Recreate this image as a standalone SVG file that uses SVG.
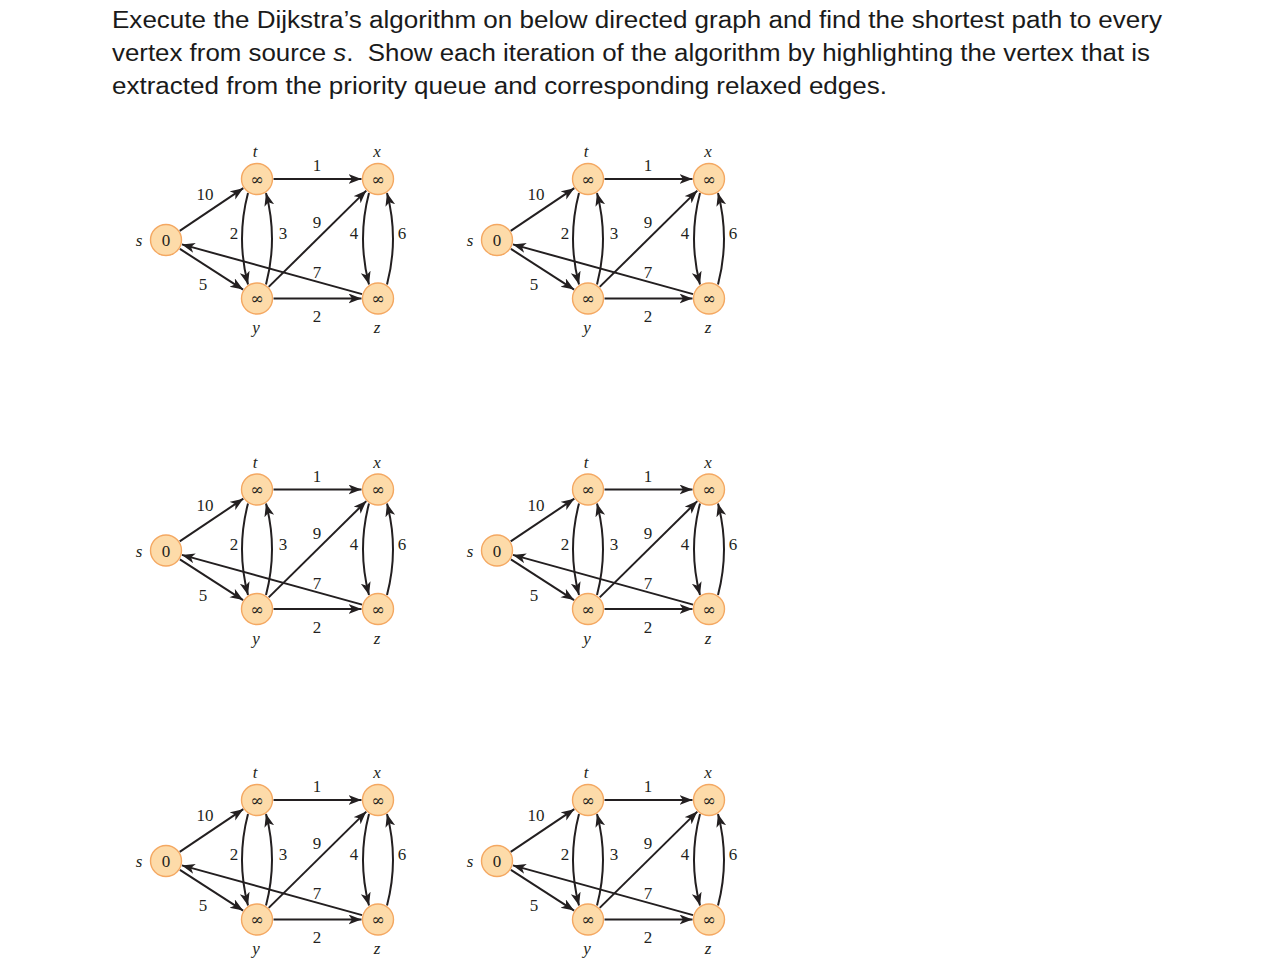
<svg xmlns="http://www.w3.org/2000/svg" width="1278" height="964" viewBox="0 0 1278 964">
<style>
.title{font-family:"Liberation Sans","Noto Sans",sans-serif;font-size:23px;fill:#1a1a1a;white-space:pre}
.e{fill:none;stroke:#231f20;stroke-width:2;marker-end:url(#ah)}
.n{fill:#fddba9;stroke:#f4a862;stroke-width:1.4}
.nt{font-family:"Liberation Serif","DejaVu Serif",serif;font-size:17px;fill:#231f20;text-anchor:middle}
.inf{font-family:"DejaVu Serif","Liberation Serif",serif;font-size:16px;fill:#231f20;text-anchor:middle}
.lb{font-family:"Liberation Serif",serif;font-size:17px;fill:#231f20;text-anchor:middle}
.vl{font-family:"Liberation Serif",serif;font-size:17px;font-style:italic;fill:#231f20;text-anchor:middle}
</style>
<defs>
<marker id="ah" markerUnits="userSpaceOnUse" markerWidth="14" markerHeight="11" refX="13" refY="5" orient="auto">
<path d="M0,0 L13,5 L0,10 L3.5,5 Z" fill="#231f20"/>
</marker>
<g id="edges-tpl">
<path class="e" d="M179.7,230.8 L243.3,188.2"/>
<path class="e" d="M179.9,248.9 L243.1,289.6"/>
<path class="e" d="M362.1,294.1 L181.9,244.4"/>
<path class="e" d="M273.5,179 L361.5,179"/>
<path class="e" d="M273.5,298.5 L361.5,298.5"/>
<path class="e" d="M268.7,286.9 L366.3,190.6"/>
<path class="e" d="M248,193 Q236,238.75 248,284.5"/>
<path class="e" d="M266,284.5 Q278,238.75 266,193"/>
<path class="e" d="M369,193 Q357,238.75 369,284.5"/>
<path class="e" d="M387,284.5 Q399,238.75 387,193"/>
</g>
<g id="labels-tpl">
<text class="lb" x="205" y="200">10</text>
<text class="lb" x="317" y="171">1</text>
<text class="lb" x="234" y="239">2</text>
<text class="lb" x="283" y="239">3</text>
<text class="lb" x="317" y="228">9</text>
<text class="lb" x="354" y="239">4</text>
<text class="lb" x="402" y="239">6</text>
<text class="lb" x="317" y="278">7</text>
<text class="lb" x="203" y="290">5</text>
<text class="lb" x="317" y="322">2</text>
</g>
</defs>

<g id="title">
<text class="title" x="112" y="28" textLength="1050" lengthAdjust="spacingAndGlyphs">Execute the Dijkstra’s algorithm on below directed graph and find the shortest path to every</text>
<text class="title" x="112" y="61" textLength="1038" lengthAdjust="spacingAndGlyphs">vertex from source <tspan font-style="italic">s</tspan>.  Show each iteration of the algorithm by highlighting the vertex that is</text>
<text class="title" x="112" y="94" textLength="775" lengthAdjust="spacingAndGlyphs">extracted from the priority queue and corresponding relaxed edges.</text>
</g>

<g id="graph1">
<g id="g1-edges"><use href="#edges-tpl"/><use href="#labels-tpl"/></g>
<g id="g1-s"><circle class="n" cx="166" cy="240" r="15.5"/><text class="nt" x="166" y="246">0</text><text class="vl" x="139" y="246">s</text></g>
<g id="g1-t"><circle class="n" cx="257" cy="179" r="15.5"/><text class="inf" x="257" y="184.5">∞</text><text class="vl" x="255" y="157">t</text></g>
<g id="g1-x"><circle class="n" cx="378" cy="179" r="15.5"/><text class="inf" x="378" y="184.5">∞</text><text class="vl" x="377" y="157">x</text></g>
<g id="g1-y"><circle class="n" cx="257" cy="298.5" r="15.5"/><text class="inf" x="257" y="304">∞</text><text class="vl" x="256" y="333">y</text></g>
<g id="g1-z"><circle class="n" cx="378" cy="298.5" r="15.5"/><text class="inf" x="378" y="304">∞</text><text class="vl" x="377" y="333">z</text></g>
</g>

<g id="graph2" transform="translate(331,0)">
<g id="g2-edges"><use href="#edges-tpl"/><use href="#labels-tpl"/></g>
<g id="g2-s"><circle class="n" cx="166" cy="240" r="15.5"/><text class="nt" x="166" y="246">0</text><text class="vl" x="139" y="246">s</text></g>
<g id="g2-t"><circle class="n" cx="257" cy="179" r="15.5"/><text class="inf" x="257" y="184.5">∞</text><text class="vl" x="255" y="157">t</text></g>
<g id="g2-x"><circle class="n" cx="378" cy="179" r="15.5"/><text class="inf" x="378" y="184.5">∞</text><text class="vl" x="377" y="157">x</text></g>
<g id="g2-y"><circle class="n" cx="257" cy="298.5" r="15.5"/><text class="inf" x="257" y="304">∞</text><text class="vl" x="256" y="333">y</text></g>
<g id="g2-z"><circle class="n" cx="378" cy="298.5" r="15.5"/><text class="inf" x="378" y="304">∞</text><text class="vl" x="377" y="333">z</text></g>
</g>

<g id="graph3" transform="translate(0,310.5)">
<g id="g3-edges"><use href="#edges-tpl"/><use href="#labels-tpl"/></g>
<g id="g3-s"><circle class="n" cx="166" cy="240" r="15.5"/><text class="nt" x="166" y="246">0</text><text class="vl" x="139" y="246">s</text></g>
<g id="g3-t"><circle class="n" cx="257" cy="179" r="15.5"/><text class="inf" x="257" y="184.5">∞</text><text class="vl" x="255" y="157">t</text></g>
<g id="g3-x"><circle class="n" cx="378" cy="179" r="15.5"/><text class="inf" x="378" y="184.5">∞</text><text class="vl" x="377" y="157">x</text></g>
<g id="g3-y"><circle class="n" cx="257" cy="298.5" r="15.5"/><text class="inf" x="257" y="304">∞</text><text class="vl" x="256" y="333">y</text></g>
<g id="g3-z"><circle class="n" cx="378" cy="298.5" r="15.5"/><text class="inf" x="378" y="304">∞</text><text class="vl" x="377" y="333">z</text></g>
</g>

<g id="graph4" transform="translate(331,310.5)">
<g id="g4-edges"><use href="#edges-tpl"/><use href="#labels-tpl"/></g>
<g id="g4-s"><circle class="n" cx="166" cy="240" r="15.5"/><text class="nt" x="166" y="246">0</text><text class="vl" x="139" y="246">s</text></g>
<g id="g4-t"><circle class="n" cx="257" cy="179" r="15.5"/><text class="inf" x="257" y="184.5">∞</text><text class="vl" x="255" y="157">t</text></g>
<g id="g4-x"><circle class="n" cx="378" cy="179" r="15.5"/><text class="inf" x="378" y="184.5">∞</text><text class="vl" x="377" y="157">x</text></g>
<g id="g4-y"><circle class="n" cx="257" cy="298.5" r="15.5"/><text class="inf" x="257" y="304">∞</text><text class="vl" x="256" y="333">y</text></g>
<g id="g4-z"><circle class="n" cx="378" cy="298.5" r="15.5"/><text class="inf" x="378" y="304">∞</text><text class="vl" x="377" y="333">z</text></g>
</g>

<g id="graph5" transform="translate(0,621)">
<g id="g5-edges"><use href="#edges-tpl"/><use href="#labels-tpl"/></g>
<g id="g5-s"><circle class="n" cx="166" cy="240" r="15.5"/><text class="nt" x="166" y="246">0</text><text class="vl" x="139" y="246">s</text></g>
<g id="g5-t"><circle class="n" cx="257" cy="179" r="15.5"/><text class="inf" x="257" y="184.5">∞</text><text class="vl" x="255" y="157">t</text></g>
<g id="g5-x"><circle class="n" cx="378" cy="179" r="15.5"/><text class="inf" x="378" y="184.5">∞</text><text class="vl" x="377" y="157">x</text></g>
<g id="g5-y"><circle class="n" cx="257" cy="298.5" r="15.5"/><text class="inf" x="257" y="304">∞</text><text class="vl" x="256" y="333">y</text></g>
<g id="g5-z"><circle class="n" cx="378" cy="298.5" r="15.5"/><text class="inf" x="378" y="304">∞</text><text class="vl" x="377" y="333">z</text></g>
</g>

<g id="graph6" transform="translate(331,621)">
<g id="g6-edges"><use href="#edges-tpl"/><use href="#labels-tpl"/></g>
<g id="g6-s"><circle class="n" cx="166" cy="240" r="15.5"/><text class="nt" x="166" y="246">0</text><text class="vl" x="139" y="246">s</text></g>
<g id="g6-t"><circle class="n" cx="257" cy="179" r="15.5"/><text class="inf" x="257" y="184.5">∞</text><text class="vl" x="255" y="157">t</text></g>
<g id="g6-x"><circle class="n" cx="378" cy="179" r="15.5"/><text class="inf" x="378" y="184.5">∞</text><text class="vl" x="377" y="157">x</text></g>
<g id="g6-y"><circle class="n" cx="257" cy="298.5" r="15.5"/><text class="inf" x="257" y="304">∞</text><text class="vl" x="256" y="333">y</text></g>
<g id="g6-z"><circle class="n" cx="378" cy="298.5" r="15.5"/><text class="inf" x="378" y="304">∞</text><text class="vl" x="377" y="333">z</text></g>
</g>
</svg>
